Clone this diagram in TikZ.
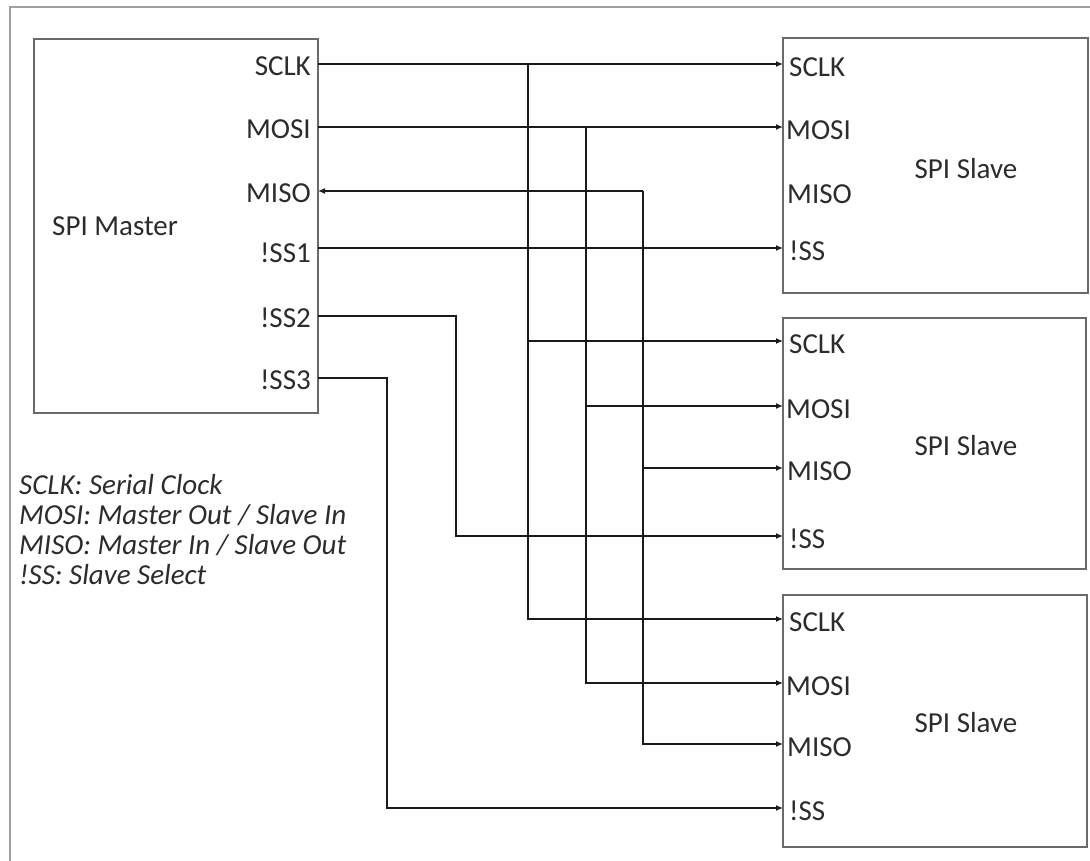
\documentclass[tikz,border=0pt]{standalone}
\usepackage{fontspec}
\setmainfont{Carlito}
\usetikzlibrary{arrows.meta}
\definecolor{txt}{HTML}{2C2C2C}
\definecolor{boxgray}{HTML}{6A6A6A}
\definecolor{wirec}{HTML}{1A1A1A}
\definecolor{framegray}{HTML}{A0A0A0}
\begin{document}
\begin{tikzpicture}[x=1pt,y=-1pt,
  box/.style={draw=boxgray, line width=2pt, inner sep=0pt, fill=white},
  lbl/.style={font=\fontsize{29}{30}\selectfont, text=txt, inner sep=0pt},
  mpin/.style={lbl, anchor=east, xshift=-7pt, yshift=-2pt},
  spin/.style={lbl, anchor=west, xshift=6pt, yshift=-3pt},
  wire/.style={draw=wirec, line width=2.5pt},
  arr/.style={wire, -{Latex[length=7pt,width=6pt]}}]
\useasboundingbox (0,0) rectangle (1090,861);
\draw[framegray, line width=1.5pt] (10,875) -- (10,7) -- (1100,7);

% boxes
\node[box, minimum width=284pt, minimum height=374pt] (m) at (176,226) {};
\node[box, minimum width=305pt, minimum height=255pt] (s1) at (935.5,165.5) {};
\node[box, minimum width=303pt, minimum height=251pt] (s2) at (934.5,443.5) {};
\node[box, minimum width=304pt, minimum height=252pt] (s3) at (935,721) {};

\node[lbl, anchor=west] (mt) at (52,226) {SPI Master};
\node[lbl] (s1t) at (966,169) {SPI Slave};
\node[lbl] (s2t) at (966,446) {SPI Slave};
\node[lbl] (s3t) at (966,723) {SPI Slave};

% master pins
\coordinate (mSCLK) at (318,64);
\coordinate (mMOSI) at (318,127);
\coordinate (mMISO) at (318,191);
\coordinate (mSS1) at (318,248);
\coordinate (mSS2) at (318,316);
\coordinate (mSS3) at (318,378);
\node[mpin] (lmSCLK) at (mSCLK) {SCLK};
\node[mpin] (lmMOSI) at (mMOSI) {MOSI};
\node[mpin] (lmMISO) at (mMISO) {MISO};
\node[mpin, yshift=-3pt] (lmSS1) at (mSS1) {!SS1};
\node[mpin] (lmSS2) at (mSS2) {!SS2};
\node[mpin] (lmSS3) at (mSS3) {!SS3};

% slave pins
\coordinate (s1SCLK) at (783,64);
\coordinate (s1MOSI) at (783,127);
\coordinate (s1MISO) at (783,191);
\coordinate (s1SS) at (783,248);
\coordinate (s2SCLK) at (783,341);
\coordinate (s2MOSI) at (783,406);
\coordinate (s2MISO) at (783,468);
\coordinate (s2SS) at (783,536);
\coordinate (s3SCLK) at (783,619);
\coordinate (s3MOSI) at (783,683);
\coordinate (s3MISO) at (783,744);
\coordinate (s3SS) at (783,808);
\foreach \s in {s1,s2,s3}{
  \node[spin] (l\s SCLK) at (\s SCLK) {SCLK};
  \node[spin, xshift=-3pt] (l\s MOSI) at (\s MOSI) {MOSI};
  \node[spin, xshift=-2pt] (l\s MISO) at (\s MISO) {MISO};
  \node[spin] (l\s SS) at (\s SS) {!SS};
}

% bus points
\coordinate (bS) at (528,64);
\coordinate (bM) at (586,127);
\coordinate (bI) at (643,191);
\coordinate (c2) at (456,316);
\coordinate (c3) at (387,378);

% SCLK
\draw[arr] (mSCLK) -- (s1SCLK);
\draw[arr] (bS |- s2SCLK) -- (s2SCLK);
\draw[arr] (bS) |- (s3SCLK);
% MOSI
\draw[arr] (mMOSI) -- (s1MOSI);
\draw[arr] (bM |- s2MOSI) -- (s2MOSI);
\draw[arr] (bM) |- (s3MOSI);
% MISO
\draw[arr] (bI) -- (mMISO);
\draw[arr] (bI |- s2MISO) -- (s2MISO);
\draw[arr] (bI) |- (s3MISO);
% slave selects
\draw[arr] (mSS1) -- (s1SS);
\draw[arr] (mSS2) -- (c2) |- (s2SS);
\draw[arr] (mSS3) -- (c3) |- (s3SS);

% legend
\node[lbl, font=\itshape\fontsize{29}{30}\selectfont, anchor=north west, align=left] (legend) at (19,474)
 {SCLK: Serial Clock\\MOSI: Master Out / Slave In\\MISO: Master In / Slave Out\\!SS: Slave Select};
\end{tikzpicture}
\end{document}
